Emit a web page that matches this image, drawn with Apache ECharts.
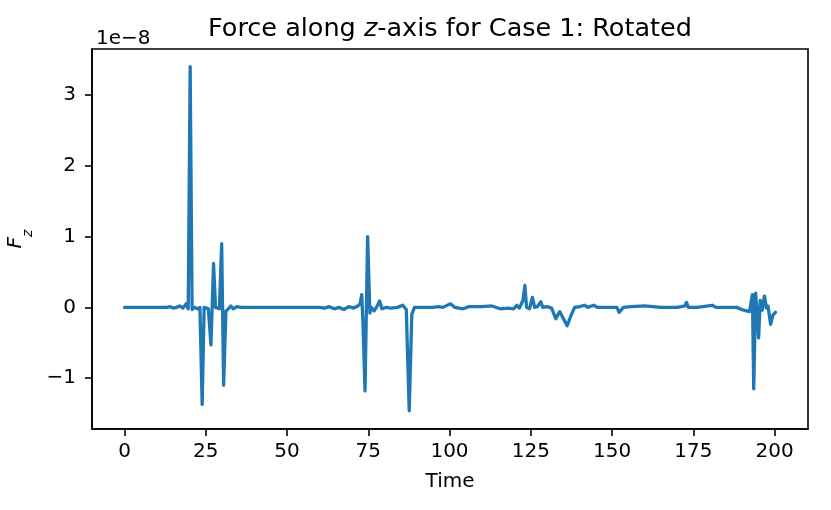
<!DOCTYPE html>
<html>
<head>
<meta charset="utf-8">
<script src="https://cdn.jsdelivr.net/npm/echarts@6/dist/echarts.min.js"></script>
<style>
  html, body { margin: 0; padding: 0; background: #fff; }
  #chart { width: 831px; height: 510px; }
</style>
</head>
<body>
<div id="chart"></div>
<script>
// time samples and F_z (in units of 1e-8)
const times = [
  0, 5, 10, 13, 14, 15, 16, 17, 18, 19, 19.6, 20.2, 20.8, 21.5, 22.5, 23.2, 23.9, 24.5,
  25.8, 26.6, 27.4, 28.0, 29.2, 29.9, 30.5, 31.2, 32.0, 32.7, 33.5, 34.5, 36, 40, 45,
  50, 55, 60, 61.5, 63, 64.5, 66, 67.5, 69, 70.5, 71.8, 72.5, 73.0, 73.4, 74.0, 74.8,
  75.5, 75.9, 76.8, 77.5, 78.5, 79.2, 80.5, 82, 84, 85.6, 86.7, 87.6, 88.4, 89.2, 92,
  95, 96.5, 98, 100.3, 101.6, 104.2, 106, 110, 113, 115.6, 118, 119.7, 120.7, 121.5,
  122.6, 123.2, 123.7, 124.6, 125.5, 126.2, 127.0, 128.1, 128.7, 130, 131.4, 132.7,
  133.9, 136.2, 137.5, 138.5, 140, 141.6, 142.5, 144.4, 145.5, 148, 151.5, 152.2, 153.5,
  156, 160, 165, 170, 172.5, 172.9, 173.5, 176, 178, 180.8, 182, 185, 188.3, 190.5,
  192.3, 193.2, 193.6, 194.2, 194.6, 195.1, 195.6, 196.2, 196.9, 197.5, 198.0, 198.8,
  199.5, 200.3
];
const forceZ = [
  0, 0, 0, 0, 0.01, -0.01, 0, 0.02, -0.01, 0.05, -0.02, 3.40, -0.03, 0, -0.02, 0, -1.37, 0,
  -0.02, -0.53, 0.62, 0, -0.02, 0.90, -1.10, -0.05, -0.02, 0.02, -0.02, 0.01, 0, 0, 0,
  0, 0, 0, -0.01, 0.01, -0.02, 0, -0.03, 0.01, -0.01, 0.02, 0.05, 0.18, -0.25, -1.18, 1.00,
  -0.08, 0, -0.05, 0, 0.09, -0.02, 0, -0.01, 0, 0.03, -0.03, -1.46, -0.10, 0, 0,
  0, 0.01, 0, 0.05, 0, -0.02, 0.01, 0.01, 0.02, -0.02, -0.01, -0.02, 0.03, -0.01,
  0.10, 0.31, 0, -0.02, 0.14, 0, 0.01, 0.08, 0, 0.01, -0.01, -0.16,
  -0.06, -0.26, -0.10, 0, 0.01, 0.03, 0, 0.03, 0, 0, 0, -0.07, 0,
  0.01, 0.02, 0, 0, 0.02, 0.07, 0, 0, 0.01, 0.03, 0, 0, 0, -0.04,
  -0.06, 0.18, -1.15, 0.20, 0.22, -0.43, 0.10, -0.04, 0.16, -0.01, 0.02, -0.24,
  -0.11, -0.07
];
const xTicks = [0, 25, 50, 75, 100, 125, 150, 175, 200];
const yTicks = [-1, 0, 1, 2, 3];

const FONT = 'DejaVu Sans';
const fmt = v => (v < 0 ? '\u2212' + Math.abs(v) : String(v));

const chart = echarts.init(document.getElementById('chart'));
chart.setOption({
  animation: false,
  backgroundColor: '#fff',
  title: [
    {
      text: '{a|Force along }{i|z}{a|-axis for Case 1: Rotated}',
      left: 445, textAlign: 'center', top: 11,
      textStyle: {
        fontWeight: 'normal',
        rich: {
          a: { fontFamily: FONT, fontSize: 25.5, fontWeight: 'normal', color: '#000' },
          i: { fontFamily: FONT, fontSize: 25.5, fontWeight: 'normal', color: '#000', fontStyle: 'italic' }
        }
      }
    },
    {
      text: '1e\u22128',
      left: 91, top: 24,
      textStyle: { fontFamily: FONT, fontSize: 20, fontWeight: 'normal', color: '#000' }
    }
  ],
  grid: {
    left: 92, right: 23, top: 49, bottom: 81, outerBoundsMode: 'none',
    show: true, borderColor: '#000', borderWidth: 1.6
  },
  xAxis: {
    type: 'value', min: -10, max: 210.3,
    name: 'Time', nameLocation: 'middle', nameGap: 43,
    nameTextStyle: { fontFamily: FONT, fontSize: 20, color: '#000' },
    axisLine: { show: true, onZero: false, lineStyle: { color: '#000', width: 1.6 } },
    axisTick: { show: true, length: 7, lineStyle: { color: '#000', width: 1.6 }, customValues: xTicks },
    axisLabel: { fontFamily: FONT, fontSize: 20, color: '#000', margin: 13, customValues: xTicks, formatter: fmt },
    splitLine: { show: false }
  },
  yAxis: {
    type: 'value', min: -1.718, max: 3.65,
    name: '{f|F}{s|z}', nameLocation: 'middle', nameRotate: 90, nameGap: 49,
    nameTextStyle: {
      rich: {
        f: { fontFamily: FONT, fontSize: 20, fontStyle: 'italic', color: '#000', lineHeight: 20, verticalAlign: 'top' },
        s: { fontFamily: FONT, fontSize: 14, fontStyle: 'italic', color: '#000', lineHeight: 30, verticalAlign: 'bottom' }
      }
    },
    axisLine: { show: true, onZero: false, lineStyle: { color: '#000', width: 1.6 } },
    axisTick: { show: true, length: 7, lineStyle: { color: '#000', width: 1.6 }, customValues: yTicks },
    axisLabel: { fontFamily: FONT, fontSize: 20, color: '#000', margin: 16, customValues: yTicks, formatter: fmt },
    splitLine: { show: false }
  },
  series: [{
    type: 'line',
    data: times.map((t, i) => [t, forceZ[i]]),
    showSymbol: false,
    lineStyle: { color: '#1f77b4', width: 3.3, join: 'round', cap: 'round' },
    itemStyle: { color: '#1f77b4' }
  }]
});
</script>
</body>
</html>
